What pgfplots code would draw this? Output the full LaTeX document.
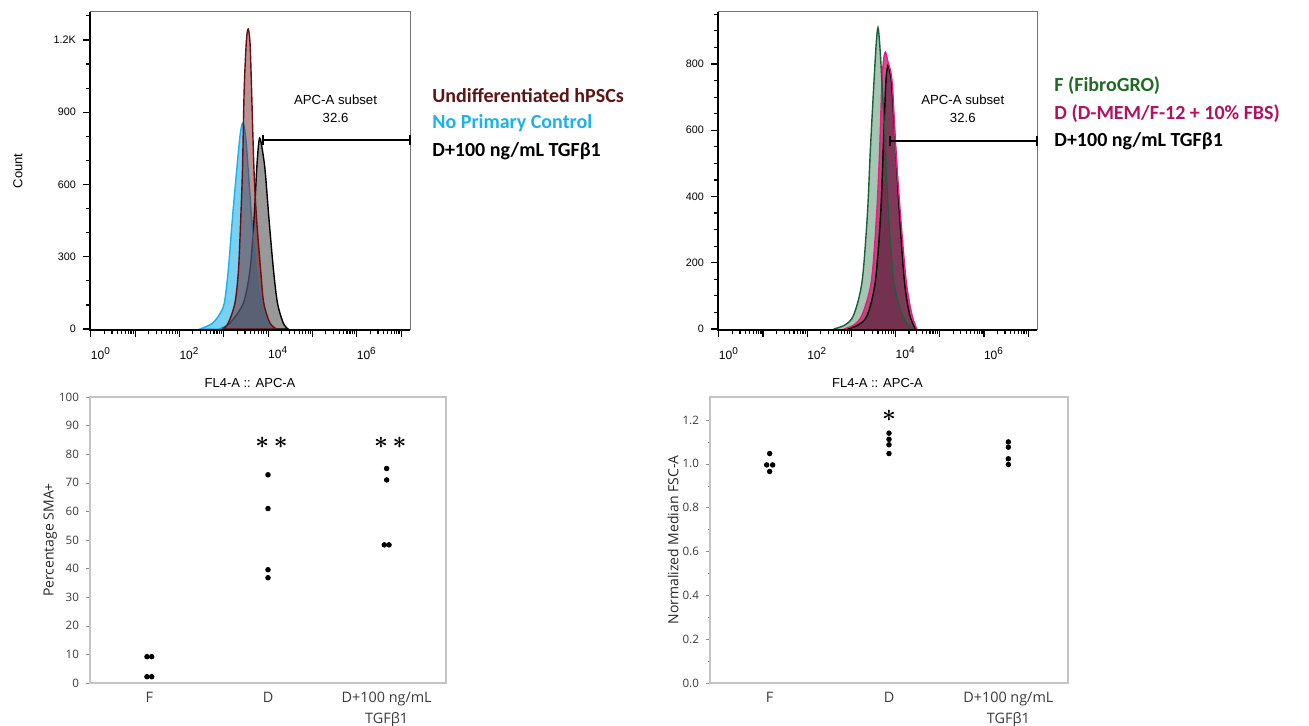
\documentclass[border=0pt]{standalone}
\usepackage{fontspec}
\setmainfont{Liberation Sans}
\newfontfamily\calfont{Carlito}
\newfontfamily\segfont{Open Sans}
\usepackage{pgfplots}
\pgfplotsset{compat=1.18}

\definecolor{undiff}{HTML}{5E1414}
\definecolor{undiffline}{HTML}{6A0E12}
\definecolor{undifffill}{HTML}{6A1010}
\definecolor{noprim}{HTML}{1AB2EC}
\definecolor{noprimfill}{HTML}{1FB0E8}
\definecolor{fibro}{HTML}{1F6B25}
\definecolor{greenline}{HTML}{17603A}
\definecolor{greenfill}{HTML}{1E7040}
\definecolor{dmem}{HTML}{B3105F}
\definecolor{pinkline}{HTML}{F0187E}
\definecolor{pinkfill}{HTML}{B8306E}
\definecolor{framegray}{HTML}{C4C4C4}
\definecolor{labgray}{HTML}{3A3A3A}

% histograms, x in log10 units of FL4-A, y = count
\pgfplotstableread{
u c
2.91 0
3.14 25
3.44 108
3.59 245
3.68 453
3.74 660
3.78 760
3.81 792
3.85 765
3.93 660
4.02 453
4.12 245
4.21 108
4.34 25
4.45 0
}\leftTGF
\pgfplotstableread{
u c
2.46 0
2.62 12
2.75 25
2.90 60
3.01 108
3.10 245
3.19 453
3.29 660
3.37 810
3.43 855
3.49 800
3.55 660
3.63 453
3.73 245
3.84 108
3.98 25
4.15 0
}\leftNoPrim
\pgfplotstableread{
u c
2.98 0
3.10 25
3.25 108
3.33 245
3.38 453
3.42 660
3.46 1000
3.51 1200
3.55 1245
3.59 1190
3.62 1030
3.68 660
3.74 453
3.83 245
3.90 108
4.04 25
4.19 0
}\leftUndiff
\pgfplotstableread{
u c
2.60 0
2.85 12
3.05 42
3.24 143
3.36 344
3.43 546
3.51 747
3.56 860
3.60 910
3.64 860
3.69 747
3.77 546
3.84 344
3.96 143
4.15 42
4.37 0
}\rightF
\pgfplotstableread{
u c
2.83 0
3.05 12
3.24 42
3.45 143
3.57 344
3.64 546
3.69 747
3.73 815
3.77 836
3.82 810
3.92 747
4.00 546
4.11 344
4.24 143
4.37 42
4.48 0
}\rightD
\pgfplotstableread{
u c
2.90 0
3.15 12
3.36 42
3.54 143
3.66 344
3.72 546
3.78 747
3.83 798
3.87 775
3.91 740
4.00 546
4.09 344
4.20 143
4.32 42
4.45 0
}\rightTGF

\tikzset{starnode/.style={font=\boldmath\fontsize{13}{13}\selectfont}}

\pgfplotsset{
  histo/.style={
    scale only axis, width=160pt, height=159pt,
    axis line style={black!55, line width=0.5pt},
    tick align=outside, tick style={black, line width=0.6pt},
    xtick pos=bottom, ytick pos=left,
    major tick length=3.5pt, minor tick length=2pt,
    xmin=-0.02, xmax=7.2, xtick={0,...,7},
    minor xtick={0.301,0.477,0.602,0.699,0.778,0.845,0.903,0.954,
      1.301,1.477,1.602,1.699,1.778,1.845,1.903,1.954,
      2.301,2.477,2.602,2.699,2.778,2.845,2.903,2.954,
      3.301,3.477,3.602,3.699,3.778,3.845,3.903,3.954,
      4.301,4.477,4.602,4.699,4.778,4.845,4.903,4.954,
      5.301,5.477,5.602,5.699,5.778,5.845,5.903,5.954,
      6.301,6.477,6.602,6.699,6.778,6.845,6.903,6.954},
    xticklabels={10\textsuperscript{0},,10\textsuperscript{2},,10\textsuperscript{4},,10\textsuperscript{6},},
    xticklabel style={font=\fontsize{6}{7}\selectfont, xshift=5pt, yshift=-1.5pt},
    yticklabel style={font=\fontsize{5.4}{6}\selectfont},
    /pgf/number format/assume math mode=true,
    xlabel={FL4-A :: APC-A},
    xlabel style={at={(axis description cs:0.5,-0.167)}, anchor=center, font=\fontsize{6.5}{7}\selectfont},
    clip=false,
  },
  dotplot/.style={
    scale only axis, height=143pt,
    xmin=-0.5, xmax=2.5, xtick={0,1,2},
    xticklabels={F,D,{D+100 ng/mL\\TGFβ1}},
    xticklabel style={align=center, font=\segfont\fontsize{7.2}{10.5}\selectfont, text=labgray, yshift=1pt},
    x tick style={draw=none}, ytick pos=left,
    yticklabel style={font=\segfont\fontsize{5.8}{6}\selectfont, text=labgray},
    axis line style={framegray, line width=0.6pt},
    tick align=outside, major tick length=2pt, minor tick length=1.2pt,
    y tick style={black!45},
    ylabel style={anchor=center, font=\segfont\fontsize{7}{8}\selectfont, text=black!85},
    /pgf/number format/assume math mode=true,
    clip=false,
  },
  dots/.style={only marks, mark=*, mark size=1.15pt, black},
}

\begin{document}
\begin{tikzpicture}
\useasboundingbox (0,0) rectangle (654.5pt,363pt);

% top left histogram
\begin{axis}[histo, at={(45pt,198pt)}, anchor=south west,
  ymin=-4, ymax=1316, ytick={0,300,600,900,1200},
  yticklabels={0,300,600,900,1.2K},
  minor ytick={100,200,400,500,700,800,1000,1100,1300},
  ylabel={Count},
  ylabel style={at={(axis description cs:-0.225,0.5)}, anchor=center, font=\fontsize{6.5}{7}\selectfont}]
\addplot[black, line width=0.7pt, fill=black, fill opacity=0.4, smooth, tension=0.5] table[x=u, y=c] {\leftTGF} \closedcycle;
\addplot[noprim, line width=0.7pt, fill=noprimfill, fill opacity=0.6, smooth, tension=0.5] table[x=u, y=c] {\leftNoPrim} \closedcycle;
\addplot[undiffline, line width=0.7pt, fill=undifffill, fill opacity=0.45, smooth, tension=0.5] table[x=u, y=c] {\leftUndiff} \closedcycle;
\draw[line width=0.8pt] (rel axis cs:0,1) -- (rel axis cs:0,0) -- (rel axis cs:1,0);
\draw[line width=0.9pt] (axis cs:3.88,785) -- (axis cs:7.2,785);
\draw[line width=0.9pt] (axis cs:3.88,764) -- (axis cs:3.88,806);
\draw[line width=0.9pt] (axis cs:7.2,764) -- (axis cs:7.2,806);
\node[font=\fontsize{6.6}{9}\selectfont, align=center] at (axis cs:5.52,914) {APC-A subset\\32.6};
\end{axis}

% top right histogram
\begin{axis}[histo, at={(359pt,198pt)}, anchor=south west, width=159.5pt,
  ymin=-3, ymax=957, ytick={0,200,400,600,800},
  minor ytick={50,100,150,250,300,350,450,500,550,650,700,750,850,900,950}]
\addplot[draw=none, fill=greenfill, fill opacity=0.4, smooth, tension=0.5] table[x=u, y=c] {\rightF} \closedcycle;
\addplot[draw=none, fill=pinkfill, fill opacity=0.8, smooth, tension=0.5] table[x=u, y=c] {\rightD} \closedcycle;
\addplot[draw=none, fill=black, fill opacity=0.35, smooth, tension=0.5] table[x=u, y=c] {\rightTGF} \closedcycle;
\addplot[black, line width=0.7pt, smooth, tension=0.5] table[x=u, y=c] {\rightTGF};
\addplot[pinkline, line width=0.7pt, smooth, tension=0.5] table[x=u, y=c] {\rightD};
\addplot[greenline, line width=0.7pt, smooth, tension=0.5] table[x=u, y=c] {\rightF};
\draw[line width=0.8pt] (rel axis cs:0,1) -- (rel axis cs:0,0) -- (rel axis cs:1,0);
\draw[line width=0.9pt] (axis cs:3.88,568) -- (axis cs:7.2,568);
\draw[line width=0.9pt] (axis cs:3.88,553) -- (axis cs:3.88,583);
\draw[line width=0.9pt] (axis cs:7.2,553) -- (axis cs:7.2,583);
\node[font=\fontsize{6.6}{9}\selectfont, align=center] at (axis cs:5.52,665) {APC-A subset\\32.6};
\end{axis}

% bottom left: percentage SMA+
\begin{axis}[dotplot, at={(45pt,21.5pt)}, anchor=south west, width=178pt,
  ymin=0, ymax=100, ytick={0,10,...,100},
  ylabel={Percentage SMA+},
  ylabel style={at={(axis description cs:-0.112,0.5)}}]
\addplot[dots] coordinates {(-0.02,9.2) (0.02,9.2) (-0.02,2.2) (0.02,2.2)};
\addplot[dots] coordinates {(1,72.8) (1,61.0) (1,39.6) (1,36.8)};
\addplot[dots] coordinates {(2,75.0) (2,71.0) (1.98,48.3) (2.02,48.3)};
\node[starnode] at (axis cs:1.03,84) {${\ast}\,{\ast}$};
\node[starnode] at (axis cs:2.03,84) {${\ast}\,{\ast}$};
\end{axis}

% bottom right: normalized median FSC-A
\begin{axis}[dotplot, at={(355pt,21.5pt)}, anchor=south west, width=179pt,
  ymin=0, ymax=1.305, ytick={0,0.2,...,1.2}, minor y tick num=1,
  yticklabel style={/pgf/number format/fixed, /pgf/number format/fixed zerofill, /pgf/number format/precision=1},
  ylabel={Normalized Median FSC-A},
  ylabel style={at={(axis description cs:-0.103,0.5)}}]
\addplot[dots] coordinates {(0,1.047) (-0.025,0.995) (0.025,0.995) (0,0.965)};
\addplot[dots] coordinates {(1,1.14) (1,1.112) (1,1.087) (1,1.047)};
\addplot[dots] coordinates {(2,1.10) (2,1.076) (2,1.023) (2,0.997)};
\node[starnode] at (axis cs:1,1.22) {$\ast$};
\end{axis}

% legends
\begin{scope}[every node/.style={anchor=west, inner sep=0pt, font=\calfont\bfseries\fontsize{10}{12}\selectfont}]
\node[text=undiff] at (216pt,315pt) {Undifferentiated hPSCs};
\node[text=noprim] at (216pt,301.5pt) {No Primary Control};
\node[text=black] at (216pt,287.5pt) {D+100 ng/mL TGFβ1};
\node[text=fibro] at (527pt,320pt) {F (FibroGRO)};
\node[text=dmem] at (527pt,306pt) {D (D-MEM/F-12 + 10\% FBS)};
\node[text=black] at (527pt,292.5pt) {D+100 ng/mL TGFβ1};
\end{scope}
\end{tikzpicture}
\end{document}
